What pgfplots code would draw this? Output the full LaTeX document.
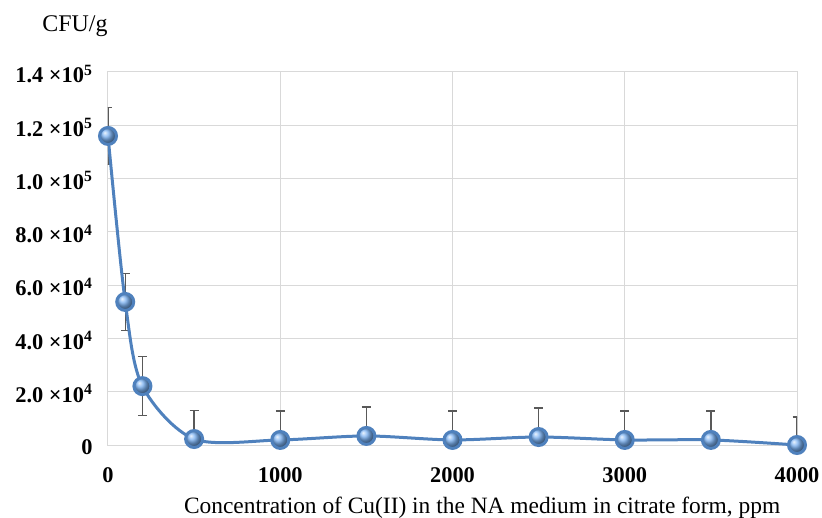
\documentclass[border=0pt]{standalone}
\usepackage{fontspec}
\setmainfont{Liberation Serif}
\usepackage{pgfplots}
\pgfplotsset{compat=1.18}
\definecolor{lineblue}{RGB}{79,129,189}
\definecolor{ballblue}{RGB}{120,175,240}
\definecolor{gridgray}{RGB}{217,217,217}
\definecolor{errgray}{RGB}{89,89,89}
\begin{document}
\begin{tikzpicture}
\useasboundingbox (-108bp,-73bp) rectangle (714bp,445bp);
\begin{axis}[
  at={(0,0)}, anchor=south west,
  scale only axis,
  width=689bp, height=373bp,
  xmin=0, xmax=4000, ymin=0, ymax=140000,
  xtick={0,1000,2000,3000,4000},
  xticklabels={\textbf{0},\textbf{1000},\textbf{2000},\textbf{3000},\textbf{4000}},
  ytick={0,20000,40000,60000,80000,100000,120000,140000},
  yticklabels={\textbf{0},
    \textbf{2.0 ×10\textsuperscript{4}},
    \textbf{4.0 ×10\textsuperscript{4}},
    \textbf{6.0 ×10\textsuperscript{4}},
    \textbf{8.0 ×10\textsuperscript{4}},
    \textbf{1.0 ×10\textsuperscript{5}},
    \textbf{1.2 ×10\textsuperscript{5}},
    \textbf{1.4 ×10\textsuperscript{5}}},
  scaled y ticks=false,
  tick style={draw=none},
  grid=major,
  major grid style={gridgray, line width=1bp},
  axis line style={gridgray, line width=1bp},
  ticklabel style={font=\fontsize{22.5}{26}\selectfont, text=black},
  xticklabel style={anchor=base, yshift=-37bp},
  yticklabel style={anchor=east, xshift=-12bp, yshift=-2bp},
  xlabel={Concentration of Cu(II) in the NA medium in citrate form, ppm},
  xlabel style={font=\fontsize{23.5}{26}\selectfont, at={(axis description cs:0.543,0)}, anchor=base, yshift=-68bp},
  clip=true,
]
\addplot[draw=none, mark=none, forget plot,
  error bars/.cd, y dir=both, y explicit,
  error bar style={errgray, line width=1.3bp},
  error mark options={errgray, line width=1.3bp, mark size=4.5bp, rotate=90}]
  coordinates {
  (0,116000) +- (0,10800)
  (100,53700) +- (0,10700)
  (200,22100) +- (0,11000)
  (500,2250) +- (0,10800)
  (1000,1900) +- (0,10900)
  (1500,3400) +- (0,10900)
  (2000,1900) +- (0,10900)
  (2500,3000) +- (0,10900)
  (3000,1900) +- (0,10900)
  (3500,1900) +- (0,10900)
  (4000,0) +- (0,10500)
  };
\addplot[lineblue, line width=3bp, smooth, mark=ball, mark size=8.5bp,
  mark options={ball color=ballblue, draw=none}]
  coordinates {
  (0,116000) (100,53700) (200,22100) (500,2250) (1000,1900) (1500,3400)
  (2000,1900) (2500,3000) (3000,1900) (3500,1900) (4000,0)
  };
\end{axis}
\node[font=\fontsize{24}{26}\selectfont, anchor=base] at (-33bp,413bp) {CFU/g};
\end{tikzpicture}
\end{document}
